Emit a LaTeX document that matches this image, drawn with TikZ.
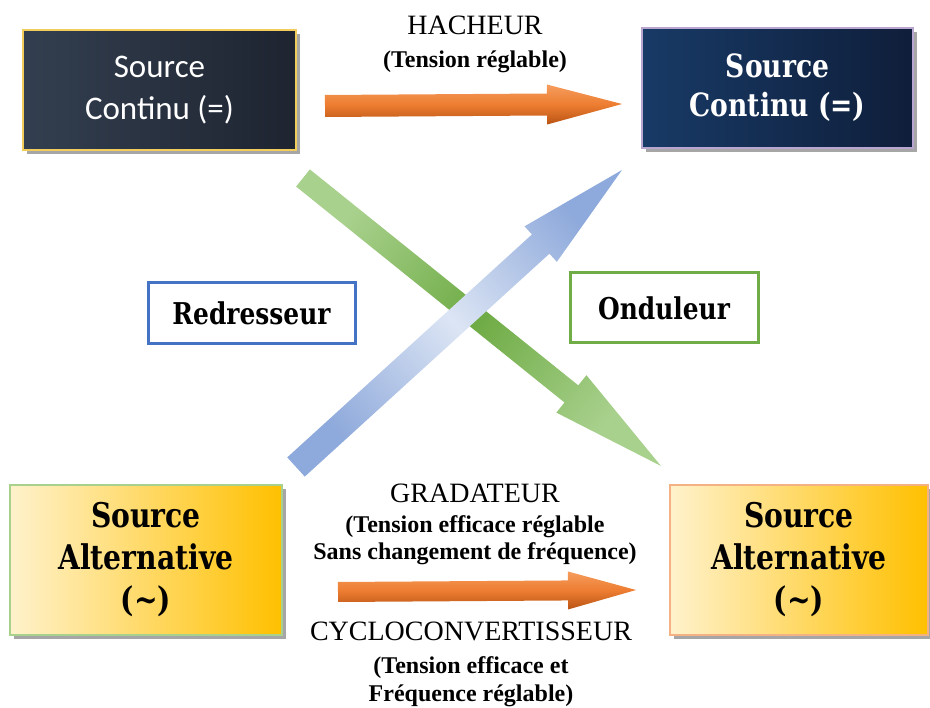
\documentclass[tikz,border=0pt]{standalone}
\usepackage{fontspec}
\setmainfont{Liberation Serif}
\newfontfamily\calfont{Carlito}
\newfontfamily\camfont[FakeStretch=0.83]{DejaVu Serif}
\usetikzlibrary{calc,shadows}

\definecolor{dcgold}{HTML}{F2CD5C}
\definecolor{dclilac}{HTML}{B9A6D0}
\definecolor{acgreen}{HTML}{A9D18E}
\definecolor{acpeach}{HTML}{F4B183}
\definecolor{acpale}{HTML}{FFF2CC}
\definecolor{acgold}{HTML}{FFC000}
\definecolor{redblue}{HTML}{4472C4}
\definecolor{ondgreen}{HTML}{70AD47}
\definecolor{grnL}{HTML}{A9D18E}
\definecolor{grnD}{HTML}{6EAB44}
\definecolor{bluD}{HTML}{8EA9DB}
\definecolor{bluL}{HTML}{DCE5F4}
\definecolor{orgL}{HTML}{F59D5E}
\definecolor{org}{HTML}{ED7D31}
\definecolor{orgD}{HTML}{B95414}

% bold sub line under a converter name
\newcommand\bnote[1]{{\bfseries\fontsize{24}{27}\selectfont #1}}

% start, tip, shaft half width, head half width, head length, style
\newcommand\bigarrow[6]{%
  \coordinate (hb) at ($(#2)!#5!(#1)$);
  \path[#6] ($(#1)!#3!90:(#2)$) -- ($(hb)!#3!90:(#2)$) -- ($(hb)!#4!90:(#2)$)
    -- (#2) -- ($(hb)!#4!-90:(#2)$) -- ($(hb)!#3!-90:(#2)$)
    -- ($(#1)!#3!-90:(#2)$) -- cycle;}

\begin{document}
\begin{tikzpicture}[x=1pt, y=-1pt,
    srcbox/.style={draw, line width=2pt, inner sep=0pt, align=center,
      drop shadow={shadow xshift=4pt, shadow yshift=-4pt, fill=black!35, opacity=1}},
    convbox/.style={draw, line width=3pt, fill=white, inner sep=0pt,
      font=\camfont\bfseries\fontsize{30}{34}\selectfont},
    convname/.style={align=center, font=\fontsize{28}{33}\selectfont}]

  \useasboundingbox (0,0) rectangle (930,708);

  \begin{scope}[every node/.style={srcbox}]
    \node (1) at (159.5,90) [minimum width=273, minimum height=120,
      draw=dcgold, left color={rgb,255:red,51;green,63;blue,80}, right color={rgb,255:red,30;green,36;blue,48},
      text=white, font=\calfont\fontsize{33}{42}\selectfont] {Source\\Continu (=)};
    \node (2) at (777.5,88) [minimum width=271, minimum height=120,
      draw=dclilac, left color={rgb,255:red,24;green,58;blue,102}, right color={rgb,255:red,15;green,30;blue,58},
      text=white, font=\camfont\bfseries\fontsize{32}{39}\selectfont] {Source\\Continu (=)};
    \node (3) at (146,560) [minimum width=272, minimum height=150,
      draw=acgreen, left color=acpale, right color=acgold,
      font=\camfont\bfseries\fontsize{34}{42}\selectfont] {Source\\Alternative\\(\textasciitilde)};
    \node (4) at (799,560) [minimum width=258, minimum height=150,
      draw=acpeach, left color=acpale, right color=acgold,
      font=\camfont\bfseries\fontsize{34}{42}\selectfont] {Source\\Alternative\\(\textasciitilde)};
  \end{scope}

  \node[convbox, draw=redblue, minimum width=207, minimum height=61] (r) at (251.5,313.5) {Redresseur};
  \node[convbox, draw=ondgreen, minimum width=188, minimum height=70] (o) at (664,308) {Onduleur};

  \coordinate (h1) at (325,106);
  \coordinate (h2) at (622,104);
  \coordinate (g1) at (338,592);
  \coordinate (g2) at (636,590);
  \coordinate (o1) at (303,178);
  \coordinate (o2) at (661,466);
  \coordinate (r1) at (296,467);
  \coordinate (r2) at (622,170);

  \bigarrow{h1}{h2}{11pt}{20pt}{75pt}{top color=orgL, bottom color=orgD, middle color=org}
  \bigarrow{g1}{g2}{10pt}{19pt}{68pt}{top color=orgL, bottom color=orgD, middle color=org}
  \bigarrow{o1}{o2}{11pt}{24pt}{115pt}{left color=grnL, right color=grnL, middle color=grnD, shading angle=51}
  \bigarrow{r1}{r2}{13pt}{24pt}{110pt}{left color=bluD, right color=bluD, middle color=bluL, shading angle=-48}

  \node[convname] (hach) at (475,44) {HACHEUR\\\bnote{(Tension réglable)}};
  \node[convname] (grad) at (475,524) {GRADATEUR\\[-3pt]\bnote{(Tension efficace réglable}\\[-6pt]\bnote{Sans changement de fréquence)}};
  \node[convname] (cyc) at (471,664) {CYCLOCONVERTISSEUR\\\bnote{(Tension efficace et}\\[-5pt]\bnote{Fréquence réglable)}};

\end{tikzpicture}
\end{document}
